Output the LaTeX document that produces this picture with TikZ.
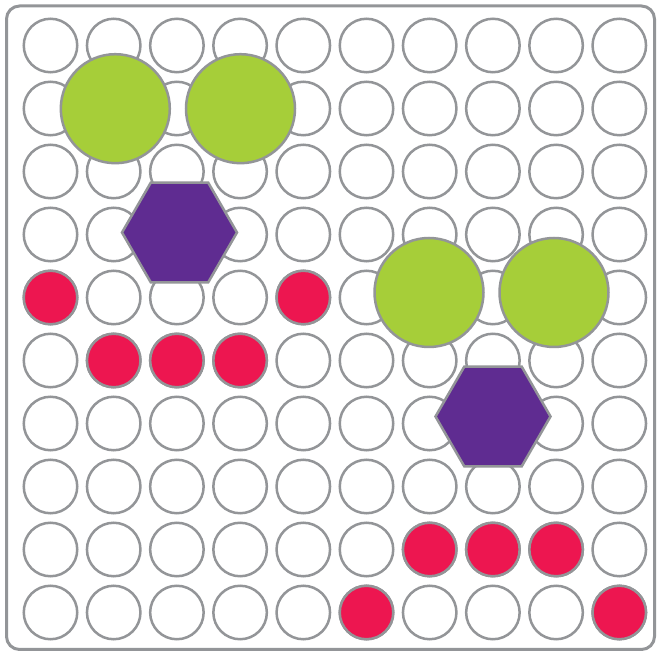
\documentclass[tikz,border=0pt]{standalone}
\usetikzlibrary{shapes.geometric}
\definecolor{cgray}{HTML}{939598}
\definecolor{cgreen}{HTML}{A6CE39}
\definecolor{cpurple}{HTML}{5F2C91}
\definecolor{cred}{HTML}{ED1650}
\begin{document}
\begin{tikzpicture}[x=1pt,y=-1pt,
  dot/.style={circle,draw=cgray,line width=2.5pt,fill=white,minimum size=53.5pt,inner sep=0pt},
  reddot/.style={dot,fill=cred},
  bigdot/.style={circle,draw=cgray,line width=2.5pt,fill=cgreen,minimum size=109pt,inner sep=0pt},
  hexa/.style={regular polygon,regular polygon sides=6,draw=cgray,line width=2.5pt,fill=cpurple,minimum size=115pt,inner sep=0pt}]
\useasboundingbox (0,0) rectangle (657,652);
\draw[cgray,line width=3pt,rounded corners=13pt] (6.5,6) rectangle (654.5,649.5);
\foreach \i in {0,...,9}{
  \foreach \j in {0,...,9}{
    \node[dot] (g\i-\j) at ({50.5+63.2*\i},{45.5+63*\j}) {};
  }
}
\foreach \i/\j in {0/4,4/4,1/5,2/5,3/5,6/8,7/8,8/8,5/9,9/9}{
  \node[reddot] (r\i-\j) at ({50.5+63.2*\i},{45.5+63*\j}) {};
}
\node[bigdot] (b1) at (115.3,108.7) {};
\node[bigdot] (b2) at (240.5,108.7) {};
\node[bigdot] (b3) at (429,292.5) {};
\node[bigdot] (b4) at (554,292.5) {};
\node[hexa] (h1) at (179.5,232.5) {};
\node[hexa] (h2) at (493,416.5) {};
\end{tikzpicture}
\end{document}
